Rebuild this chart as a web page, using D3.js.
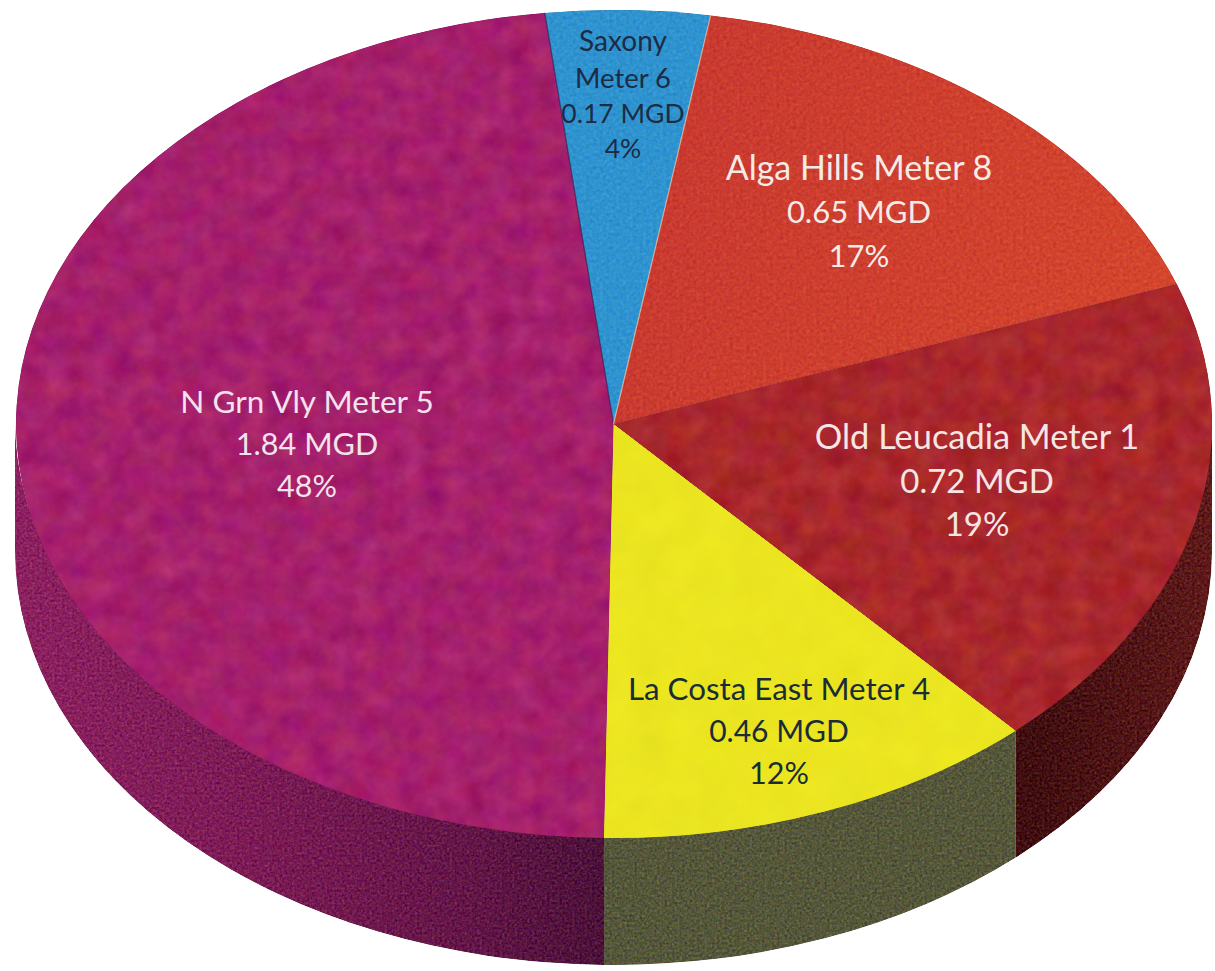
<!DOCTYPE html>
<html>
<head>
<meta charset="utf-8">
<script src="https://cdn.jsdelivr.net/npm/d3@7/dist/d3.min.js"></script>
<style>
html,body{margin:0;padding:0;background:#fff;overflow:hidden}
svg{display:block}
text{font-family:Lato,"Open Sans",sans-serif;text-anchor:middle}
</style>
</head>
<body>
<svg id="chart" width="1215" height="971"></svg>
<script>
// Data
const meters = ["Saxony Meter 6","Alga Hills Meter 8","Old Leucadia Meter 1","La Costa East Meter 4","N Grn Vly Meter 5"];
const mgd = [0.17,0.65,0.72,0.46,1.84];
const shares = ["4%","17%","19%","12%","48%"];

// Styles, kept apart from the data
const faceColors = ["#2f93cf","url(#faceAlga)","#a8272c","#ebe520","#a5206b"];
const faceBase   = ["#2f93cf","#cf402f","#a8272c","#ebe520","#a5206b"];
const faceFilter = ["speckle","speckle","mottle","smooth","mottle"];
const wallFills  = [null,null,"url(#wallRed)","#55573a","url(#wallPurple)"];
const textColors = ["#1b2c44","#f5ebe6","#f5e6e4","#1a2c38","#f3e3ec"];
const labelSpec = [
  {x:623,y:[51,88,123,158],size:[28,27.4,26.5,26.5]},
  {x:859,y:[180,223,267],size:[34,31,31]},
  {x:977,y:[449,493,536],size:[34.4,33,33]},
  {x:779,y:[700,742,784],size:[31.3,30,30.5]},
  {x:307,y:[413,455,497],size:[31.5,30.6,30.5]}
];

const W = 1215, H = 971;
const depth = 127;
// Unit-circle scales turn the tilted pie into an ellipse
const sx = d3.scaleLinear().domain([-1,1]).range([15,1212]);
const sy = d3.scaleLinear().domain([-1,1]).range([10,838]);
const rx = (sx(1)-sx(-1))/2, ry = (sy(1)-sy(-1))/2;
const unitDepth = depth/ry;

const svg = d3.select("#chart");
const defs = svg.append("defs");

function grad(id,x1,y1,x2,y2,stops){
  const g = defs.append("linearGradient").attr("id",id)
    .attr("gradientUnits","userSpaceOnUse")
    .attr("x1",x1).attr("x2",x2).attr("y1",y1).attr("y2",y2);
  stops.forEach(s=>g.append("stop").attr("offset",s[0]).attr("stop-color",s[1]));
}
// Gradient coordinates live in the pie's unit frame
grad("wallPurple",-1,0,1,0,[[0,"#8c2160"],[0.2,"#7b1b55"],[0.38,"#631647"],[0.5,"#4a1138"]]);
grad("wallRed",-1,0,1,0,[[0.7,"#4c1214"],[0.85,"#3f0e10"],[1,"#5e1a1a"]]);
grad("faceAlga",0.05,-0.5,0.95,-0.3,[[0,"#c93a30"],[1,"#d4462d"]]);

function texture(id,freq,amount){
  const f = defs.append("filter").attr("id",id)
    .attr("filterUnits","userSpaceOnUse")
    .attr("x",0).attr("y",0).attr("width",W).attr("height",H)
    .attr("color-interpolation-filters","sRGB");
  f.append("feTurbulence").attr("type","fractalNoise").attr("baseFrequency",freq)
    .attr("numOctaves",5).attr("seed",11).attr("result","n");
  f.append("feColorMatrix").attr("in","n").attr("type","matrix")
    .attr("values","0.7 0.3 0 0 0  0.3 0.7 0 0 0  0.15 0.15 0.7 0 0  0 0 0 0 1").attr("result","g");
  f.append("feComposite").attr("in","SourceGraphic").attr("in2","g").attr("operator","arithmetic")
    .attr("k1",0).attr("k2",1).attr("k3",amount).attr("k4",-amount/2).attr("result","c");
  f.append("feComposite").attr("in","c").attr("in2","SourceAlpha").attr("operator","in");
}
texture("mottle",0.045,0.2);
texture("speckle",0.3,0.2);
texture("smooth",0.03,0.05);
texture("wallTex",0.4,0.4);

const pie = d3.pie().sort(null).startAngle(-6.6*Math.PI/180).endAngle((360-6.6)*Math.PI/180);
const slices = pie(mgd).map((s,i)=>({...s,i,name:meters[i],share:shares[i]}));
const arc = d3.arc().innerRadius(0).outerRadius(1);
const unitFrame = `translate(${sx(0)},${sy(0)}) scale(${rx},${ry})`;

// Walls: only the part of each slice that faces the viewer (90 to 270 degrees)
const wallPath = s=>{
  const a0 = Math.max(s.startAngle,Math.PI/2)-Math.PI/2;
  const a1 = Math.min(s.endAngle,3*Math.PI/2)-Math.PI/2;
  const p = d3.path();
  p.arc(0,-0.01,1,a0,a1);        // tucked under the face so no seam shows
  p.arc(0,unitDepth,1,a1,a0,true);
  p.closePath();
  return p.toString();
};
const walls = slices.filter(s=>s.endAngle>Math.PI/2 && s.startAngle<3*Math.PI/2);
const wallLayer = svg.append("g").attr("filter","url(#wallTex)");
wallLayer.selectAll("path").data(walls).join("path")
  .attr("transform",unitFrame)
  .attr("d",wallPath)
  .attr("fill",d=>wallFills[d.i]);

// Plain faces underneath, so the textured ones leave no gaps between slices
svg.append("g").selectAll("path").data(slices).join("path")
  .attr("transform",unitFrame)
  .attr("d",arc)
  .attr("fill",d=>faceBase[d.i]);

svg.append("g").selectAll("g").data(slices).join("g")
  .attr("filter",d=>`url(#${faceFilter[d.i]})`)
  .append("path")
  .attr("transform",unitFrame)
  .attr("d",arc)
  .attr("fill",d=>faceColors[d.i]);

// Fine edges either side of the blue slice
const saxony = slices[0];
const edge = (a,color,w)=>svg.append("line")
  .attr("x1",sx(0)).attr("y1",sy(0))
  .attr("x2",sx(Math.sin(a))).attr("y2",sy(-Math.cos(a)))
  .attr("stroke",color).attr("stroke-width",w).attr("stroke-opacity",0.7);
edge(saxony.startAngle,"#3b2358",1.4);
edge(saxony.endAngle,"#ecd2b8",1.2);

// Labels
const labels = svg.append("g");
slices.forEach((s,i)=>{
  const spec = labelSpec[i];
  const lines = i===0
    ? s.name.replace(" Meter","|Meter").split("|").concat([s.value.toFixed(2)+" MGD",s.share])
    : [s.name,s.value.toFixed(2)+" MGD",s.share];
  labels.selectAll(null).data(lines).join("text")
    .attr("x",spec.x)
    .attr("y",(d,j)=>spec.y[j])
    .attr("font-size",(d,j)=>spec.size[j])
    .attr("fill",textColors[i])
    .text(d=>d);
});
</script>
</body>
</html>
